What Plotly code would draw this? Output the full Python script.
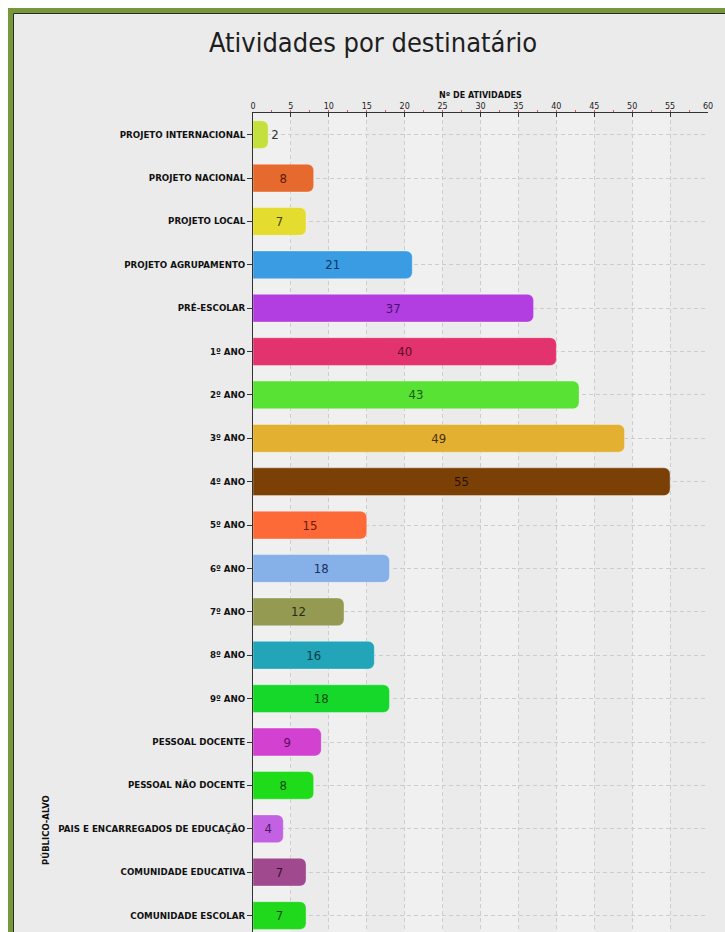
import plotly.graph_objects as go

categories = [
    "PROJETO INTERNACIONAL", "PROJETO NACIONAL", "PROJETO LOCAL", "PROJETO AGRUPAMENTO",
    "PRÉ-ESCOLAR", "1º ANO", "2º ANO", "3º ANO", "4º ANO", "5º ANO", "6º ANO", "7º ANO",
    "8º ANO", "9º ANO", "PESSOAL DOCENTE", "PESSOAL NÃO DOCENTE",
    "PAIS E ENCARREGADOS DE EDUCAÇÃO", "COMUNIDADE EDUCATIVA", "COMUNIDADE ESCOLAR",
]
values = [2, 8, 7, 21, 37, 40, 43, 49, 55, 15, 18, 12, 16, 18, 9, 8, 4, 7, 7]
colors = [
    "#c4e03c", "#e6692e", "#e4dc2e", "#3a9ce2", "#b23ee2", "#e2336f", "#58e234",
    "#e4b032", "#7a4006", "#fd6a37", "#86b0e8", "#949a52", "#22a5b8", "#16d82a",
    "#d241d0", "#1edc1a", "#c262e2", "#a0498e", "#20d81c",
]
text_colors = [
    "#333333", "#5a1a05", "#4a4208", "#0c3560", "#4a1070", "#5a0d25", "#1a5a10",
    "#4a3006", "#2a1200", "#6a1a05", "#1c3060", "#2a2c10", "#0a3a44", "#0a4a10",
    "#5a1060", "#0a4a08", "#4a1a60", "#3a1030", "#0a4a08",
]
text_positions = ["outside"] + ["inside"] * (len(values) - 1)

W, H = 725, 932
ML, MR, MT, MB = 253, 17, 113, 0
PW, PH = W - ML - MR, H - MT - MB


def px(x):
    return (x - ML) / PW


def py(y):
    return (H - MB - y) / PH


label_font = "DejaVu Sans, Verdana, sans-serif"
title_font = "DejaVu Sans Condensed, Liberation Sans Narrow, Arial Narrow, sans-serif"

fig = go.Figure(
    go.Bar(
        x=values,
        y=categories,
        orientation="h",
        width=0.64,
        marker=dict(color=colors, cornerradius=6, line=dict(color="rgba(255,255,255,0.35)", width=1)),
        text=[str(v) for v in values],
        textposition=text_positions,
        insidetextanchor="middle",
        textfont=dict(color=text_colors, size=13, family=title_font),
        outsidetextfont=dict(color="#333333", size=13, family=title_font),
        cliponaxis=False,
        hoverinfo="x+y",
    )
)

shapes = [
    dict(type="rect", xref="paper", yref="paper",
         x0=px(10.5), x1=px(760), y0=py(960), y1=py(10.5),
         line=dict(color="#76973a", width=5), fillcolor="#ebebeb", layer="below"),
    dict(type="rect", xref="paper", yref="paper",
         x0=px(13.5), x1=px(770), y0=py(970), y1=py(13.5),
         line=dict(color="#2a2a2a", width=1), fillcolor="rgba(0,0,0,0)", layer="below"),
]
# subtle vertical bands in plot area
for i in range(0, 12, 2):
    shapes.append(dict(type="rect", xref="x", yref="paper", x0=i * 5, x1=i * 5 + 5, y0=0, y1=1,
                       line=dict(width=0), fillcolor="rgba(255,255,255,0.25)", layer="below"))

fig.update_layout(
    width=W, height=H,
    margin=dict(l=ML, r=MR, t=MT, b=MB),
    paper_bgcolor="white",
    plot_bgcolor="rgba(0,0,0,0)",
    showlegend=False,
    shapes=shapes,
    title=dict(text="Atividades por destinatário", x=373 / W, xanchor="center",
               y=1 - 43 / H, yanchor="middle",
               font=dict(family=title_font, size=27, color="#1e1e1e")),
    xaxis=dict(
        side="top", range=[0, 60], dtick=5, tick0=0,
        showline=True, linecolor="#333333", linewidth=1,
        ticks="inside", ticklen=4, tickcolor="#333333",
        tickfont=dict(family=label_font, size=8, color="#222222"),
        showgrid=True, gridcolor="#cdcdcd", griddash="4px,3px", gridwidth=1,
        zeroline=False,
        minor=dict(dtick=2.5, ticks="outside", ticklen=2, tickcolor="#e05060", showgrid=False),
        fixedrange=True,
    ),
    yaxis=dict(
        autorange=False, range=[18.38, -0.5],
        showline=True, linecolor="#333333", linewidth=1,
        ticks="outside", ticklen=5, tickcolor="#333333",
        tickfont=dict(family=label_font, size=8.7, color="#111111", weight="bold"),
        showgrid=True, gridcolor="#cdcdcd", griddash="4px,3px", gridwidth=1,
        zeroline=False,
        fixedrange=True,
    ),
    annotations=[
        dict(text="Nº DE ATIVIDADES", xref="paper", yref="paper", x=px(480), y=py(95),
             xanchor="center", yanchor="middle", showarrow=False,
             font=dict(family=label_font, size=8, color="#111111", weight="bold")),
        dict(text="PÚBLICO-ALVO", xref="paper", yref="paper", x=px(45), y=py(830),
             xanchor="center", yanchor="middle", showarrow=False, textangle=-90,
             font=dict(family=label_font, size=8.5, color="#111111", weight="bold")),
    ],
)

fig.write_html(
    "out.html",
    config={"displayModeBar": False},
    post_script="document.body.style.margin='0';document.body.style.overflow='hidden';",
)
